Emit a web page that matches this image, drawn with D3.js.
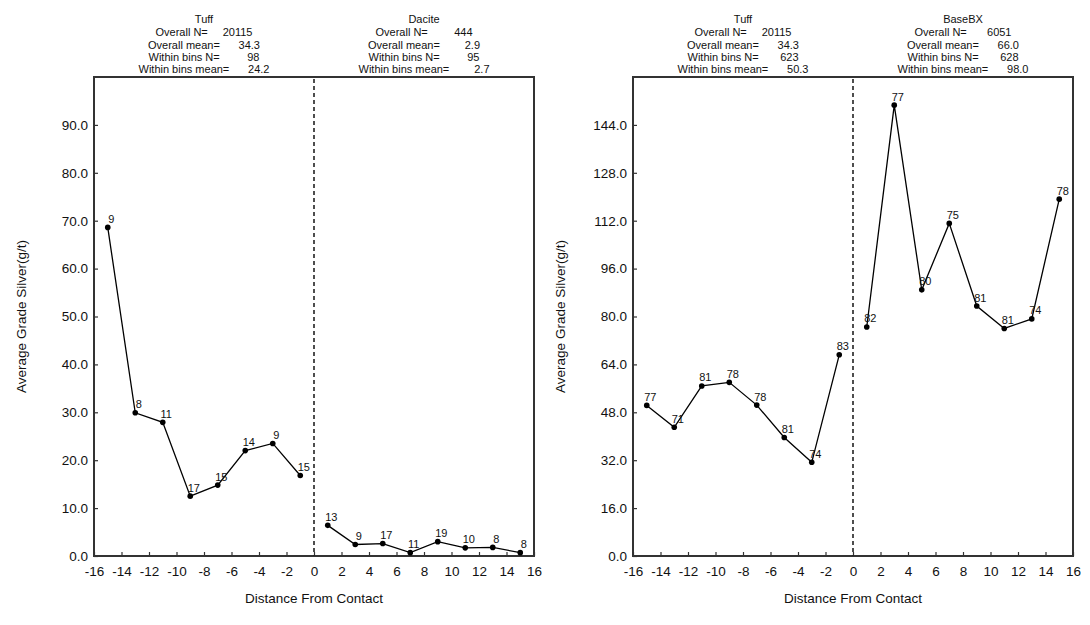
<!DOCTYPE html>
<html>
<head>
<meta charset="utf-8">
<script src="https://cdn.jsdelivr.net/npm/d3@7"></script>
<style>
  body { margin: 0; background: #fff; }
  svg { display: block; }
  text { font-family: "Liberation Sans", Arial, sans-serif; fill: #111; }
</style>
</head>
<body>
<svg id="chart" width="1090" height="625"></svg>
<script>
// ---------- data ----------
const xTicks = [-16, -14, -12, -10, -8, -6, -4, -2, 0, 2, 4, 6, 8, 10, 12, 14, 16];
const negBins = [-15, -13, -11, -9, -7, -5, -3, -1];
const posBins = [1, 3, 5, 7, 9, 11, 13, 15];

// Left chart: Tuff vs Dacite
const leftYTicks = [0, 10, 20, 30, 40, 50, 60, 70, 80, 90];
const tuffLeftMean = [68.6, 29.9, 27.9, 12.5, 14.8, 22.0, 23.5, 16.8];
const tuffLeftCount = [9, 8, 11, 17, 15, 14, 9, 15];
const daciteMean = [6.4, 2.4, 2.6, 0.7, 3.0, 1.7, 1.8, 0.7];
const daciteCount = [13, 9, 17, 11, 19, 10, 8, 8];

// Right chart: Tuff vs BaseBX
const rightYTicks = [0, 16, 32, 48, 64, 80, 96, 112, 128, 144];
const tuffRightMean = [50.3, 43.0, 56.8, 58.0, 50.4, 39.6, 31.3, 67.2];
const tuffRightCount = [77, 71, 81, 78, 78, 81, 74, 83];
const baseBXMean = [76.5, 150.6, 88.9, 111.1, 83.5, 76.0, 79.2, 119.2];
const baseBXCount = [82, 77, 80, 75, 81, 81, 74, 78];

// Header statistics
const headerLabels = ["Overall N=", "Overall mean=", "Within bins N=", "Within bins mean="];
const tuffLeftStats = ["20115", "34.3", "98", "24.2"];
const daciteStats = ["444", "2.9", "95", "2.7"];
const tuffRightStats = ["20115", "34.3", "623", "50.3"];
const baseBXStats = ["6051", "66.0", "628", "98.0"];

const yTitle = "Average Grade Silver(g/t)";
const xTitle = "Distance From Contact";

// ---------- layout ----------
const svg = d3.select("#chart");
const plotTop = 77, plotBottom = 556;

const charts = [
  {
    x0: 94, x1: 534, yMax: 100, yTicks: leftYTicks,
    negName: "Tuff", negStats: tuffLeftStats, negMean: tuffLeftMean, negCount: tuffLeftCount,
    posName: "Dacite", posStats: daciteStats, posMean: daciteMean, posCount: daciteCount,
    halfW: [48.5, 56, 55.5, 65.5]
  },
  {
    x0: 633, x1: 1073, yMax: 160, yTicks: rightYTicks,
    negName: "Tuff", negStats: tuffRightStats, negMean: tuffRightMean, negCount: tuffRightCount,
    posName: "BaseBX", posStats: baseBXStats, posMean: baseBXMean, posCount: baseBXCount,
    halfW: [48.5, 56, 55.5, 65.5]
  }
];

const headerBaselines = [23, 36, 48.5, 60.5, 72.5];

charts.forEach(c => {
  const x = d3.scaleLinear().domain([-16, 16]).range([c.x0, c.x1]);
  const y = d3.scaleLinear().domain([0, c.yMax]).range([plotBottom, plotTop]);
  const g = svg.append("g");

  // Y axis
  const yAxis = d3.axisLeft(y).tickValues(c.yTicks).tickFormat(d3.format(".1f"))
    .tickSizeInner(-4).tickSizeOuter(0).tickPadding(6);
  const ya = g.append("g").attr("transform", `translate(${c.x0},0)`).call(yAxis);
  ya.select(".domain").remove();
  ya.selectAll("line").attr("stroke", "#333").attr("stroke-width", 1.2);
  ya.selectAll("text").attr("font-size", 13.5).attr("fill", "#111")
    .attr("font-family", "'Liberation Sans', Arial, sans-serif");

  // X axis
  const xAxis = d3.axisBottom(x).tickValues(xTicks).tickFormat(d3.format("d"))
    .tickSizeInner(-4).tickSizeOuter(0).tickPadding(10.5);
  const xa = g.append("g").attr("transform", `translate(0,${plotBottom})`).call(xAxis);
  xa.select(".domain").remove();
  xa.selectAll("line").attr("stroke", "#333").attr("stroke-width", 1.2);
  xa.selectAll("text").attr("font-size", 13.5).attr("fill", "#111")
    .attr("font-family", "'Liberation Sans', Arial, sans-serif")
    .text(d => d < 0 ? "-" + Math.abs(d) : String(d));

  // Frame
  g.append("rect")
    .attr("x", c.x0).attr("y", plotTop)
    .attr("width", c.x1 - c.x0).attr("height", plotBottom - plotTop)
    .attr("fill", "none").attr("stroke", "#333").attr("stroke-width", 2);

  // Contact line
  g.append("line")
    .attr("x1", x(0)).attr("x2", x(0)).attr("y1", plotTop + 2).attr("y2", plotBottom)
    .attr("stroke", "#222").attr("stroke-width", 1.6).attr("stroke-dasharray", "4,3");

  // Series
  const line = d3.line().x(d => x(d.x)).y(d => y(d.v));
  [[negBins, c.negMean, c.negCount], [posBins, c.posMean, c.posCount]].forEach(([bins, vals, counts]) => {
    const pts = bins.map((b, i) => ({ x: b, v: vals[i], n: counts[i] }));
    g.append("path").datum(pts).attr("d", line)
      .attr("fill", "none").attr("stroke", "#000").attr("stroke-width", 1.3);
    g.selectAll(null).data(pts).enter().append("circle")
      .attr("cx", d => x(d.x)).attr("cy", d => y(d.v)).attr("r", 2.8).attr("fill", "#000");
    g.selectAll(null).data(pts).enter().append("text")
      .attr("x", d => x(d.x) + 3.5).attr("y", d => y(d.v) - 4.5)
      .attr("text-anchor", "middle").attr("font-size", 11).attr("fill", "#222")
      .text(d => d.n);
  });

  // Headers
  [[c.negName, c.negStats, (c.x0 + x(0)) / 2], [c.posName, c.posStats, (x(0) + c.x1) / 2]]
    .forEach(([name, stats, cx]) => {
      g.append("text").attr("x", cx).attr("y", headerBaselines[0])
        .attr("text-anchor", "middle").attr("font-size", 11).text(name);
      headerLabels.forEach((lab, i) => {
        g.append("text").attr("x", cx - c.halfW[i]).attr("y", headerBaselines[i + 1])
          .attr("text-anchor", "start").attr("font-size", 11).text(lab);
        g.append("text").attr("x", cx + c.halfW[i]).attr("y", headerBaselines[i + 1])
          .attr("text-anchor", "end").attr("font-size", 11).text(stats[i]);
      });
    });

  // Axis titles
  g.append("text").attr("x", (c.x0 + c.x1) / 2).attr("y", 603)
    .attr("text-anchor", "middle").attr("font-size", 13.5).text(xTitle);
  const yc = (plotTop + plotBottom) / 2;
  g.append("text")
    .attr("transform", `translate(${c.x0 - 68},${yc}) rotate(-90)`)
    .attr("text-anchor", "middle").attr("font-size", 13.5).text(yTitle);
});
</script>
</body>
</html>
